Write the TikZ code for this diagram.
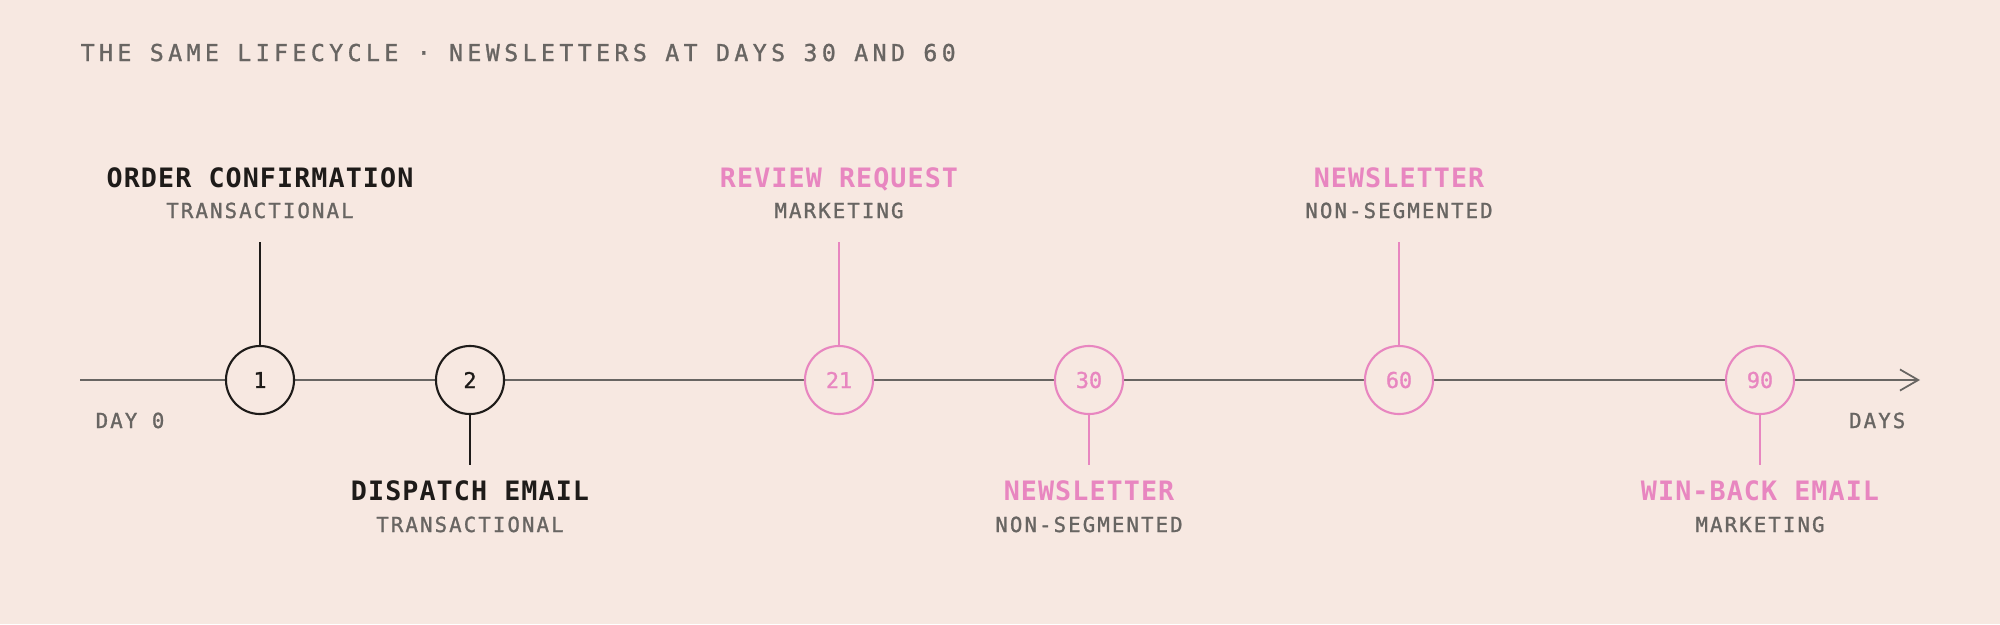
\documentclass[tikz,border=0pt]{standalone}
\usepackage{fontspec}
\usetikzlibrary{arrows.meta}
\setmonofont{DejaVu Sans Mono}
\newfontfamily\titlefont[LetterSpace=19,FakeBold=1.2]{DejaVu Sans Mono}
\newfontfamily\eventfont[LetterSpace=4]{DejaVu Sans Mono Bold}
\newfontfamily\kindfont[LetterSpace=10,FakeBold=1.2]{DejaVu Sans Mono}
\newfontfamily\dayfont[FakeBold=1.2]{DejaVu Sans Mono}
\definecolor{paper}{HTML}{F7E8E1}
\definecolor{rose}{HTML}{E886C0}
\definecolor{ink}{HTML}{1E1B19}
\definecolor{slate}{HTML}{686562}

\begin{document}
\begin{tikzpicture}[x=0.01cm,y=-0.01cm,
    every node/.style={inner sep=0pt},
    day/.style={circle,draw=ink,fill=paper,line width=0.6pt,minimum size=0.68cm,text=ink,
        font=\dayfont\fontsize{6.2pt}{7pt}\selectfont},
    mkt/.style={day,draw=rose,text=rose},
    event/.style={anchor=base,font=\eventfont\fontsize{7.6pt}{9pt}\selectfont,text=ink},
    kind/.style={anchor=base,font=\kindfont\fontsize{5.9pt}{7pt}\selectfont,text=slate},
    stem/.style={line width=0.45pt,draw=ink}]

    \fill[paper] (0,0) rectangle (2000,624);

    \node[anchor=base west,text=slate,font=\titlefont\fontsize{6.6pt}{8pt}\selectfont] (title) at (80,61)
        {THE SAME LIFECYCLE · NEWSLETTERS AT DAYS 30 AND 60};

    % the time axis
    \coordinate (start) at (80,380);
    \coordinate (end) at (1920,380);
    \draw[slate,line width=0.5pt,-{Straight Barb[length=5.2pt,width=6pt,line width=0.5pt]}] (start) -- (end);
    \node[kind,anchor=base west] (day0) at (95,428) {DAY 0};
    \node[kind,anchor=base east] (days) at (1906,428) {DAYS};

    % the days
    \node[day] (c1) at (260,380) {1};
    \node[day] (c2) at (470,380) {2};
    \node[mkt] (c21) at (839,380) {21};
    \node[mkt] (c30) at (1089,380) {30};
    \node[mkt] (c60) at (1399,380) {60};
    \node[mkt] (c90) at (1760,380) {90};

    % stems
    \coordinate (s1) at (260,242);
    \coordinate (s2) at (470,465);
    \coordinate (s21) at (839,242);
    \coordinate (s30) at (1089,465);
    \coordinate (s60) at (1399,242);
    \coordinate (s90) at (1760,465);
    \draw[stem] (c1) -- (s1);
    \draw[stem] (c2) -- (s2);
    \draw[stem,rose] (c21) -- (s21);
    \draw[stem,rose] (c30) -- (s30);
    \draw[stem,rose] (c60) -- (s60);
    \draw[stem,rose] (c90) -- (s90);

    % labels above
    \node[event] (e1) at (260,187) {ORDER CONFIRMATION};
    \node[kind] (k1) at (260,218) {TRANSACTIONAL};
    \node[event,text=rose] (e21) at (839,187) {REVIEW REQUEST};
    \node[kind] (k21) at (839,218) {MARKETING};
    \node[event,text=rose] (e60) at (1399,187) {NEWSLETTER};
    \node[kind] (k60) at (1399,218) {NON-SEGMENTED};

    % labels below
    \node[event] (e2) at (470,500) {DISPATCH EMAIL};
    \node[kind] (k2) at (470,532) {TRANSACTIONAL};
    \node[event,text=rose] (e30) at (1089,500) {NEWSLETTER};
    \node[kind] (k30) at (1089,532) {NON-SEGMENTED};
    \node[event,text=rose] (e90) at (1760,500) {WIN-BACK EMAIL};
    \node[kind] (k90) at (1760,532) {MARKETING};
\end{tikzpicture}
\end{document}
